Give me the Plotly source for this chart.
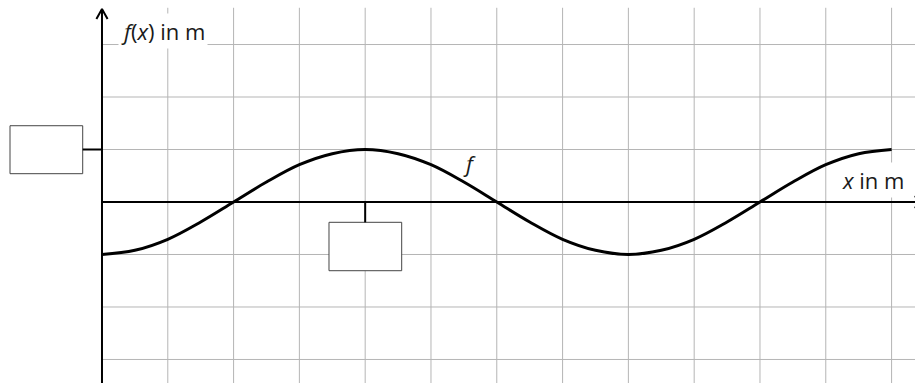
import plotly.graph_objects as go

# curve f (x in grid units, f(x) in grid units)
x_vals = [0, 0.5, 1, 1.5, 2, 2.5, 3, 3.5, 4, 4.5, 5, 5.5, 6,
          6.5, 7, 7.5, 8, 8.5, 9, 9.5, 10, 10.5, 11, 11.5, 12]
f_vals = [-1, -0.92, -0.71, -0.38, 0, 0.38, 0.71, 0.92, 1, 0.92, 0.71, 0.38, 0,
          -0.38, -0.71, -0.92, -1, -0.92, -0.71, -0.38, 0, 0.38, 0.71, 0.92, 1]

grid_x = [1, 2, 3, 4, 5, 6, 7, 8, 9, 10, 11, 12]
grid_y = [-3, -2, -1, 1, 2, 3]

X_RANGE = [-1.55, 12.356]
Y_RANGE = [-3.448, 3.848]
GRID_TOP = 3.70
Y_TIP = 3.676
X_TIP = 12.5

GRID_COLOR = "#b5b5b5"
FONT = "Open Sans"
TEXT_COLOR = "#1a1a1a"

fig = go.Figure()

shapes = []
for gx in grid_x:
    shapes.append(dict(type="line", x0=gx, x1=gx, y0=Y_RANGE[0], y1=GRID_TOP,
                       line=dict(color=GRID_COLOR, width=1), layer="below"))
for gy in grid_y:
    shapes.append(dict(type="line", x0=0, x1=X_RANGE[1], y0=gy, y1=gy,
                       line=dict(color=GRID_COLOR, width=1), layer="below"))

# axes
shapes.append(dict(type="line", x0=0, x1=0, y0=Y_RANGE[0], y1=Y_TIP,
                   line=dict(color="black", width=2)))
shapes.append(dict(type="line", x0=0, x1=X_RANGE[1], y0=0, y1=0,
                   line=dict(color="black", width=2)))

# answer boxes with their connectors
shapes.append(dict(type="rect", x0=-1.398, x1=-0.293, y0=0.539, y1=1.453,
                   line=dict(color="#444", width=1), fillcolor="white"))
shapes.append(dict(type="line", x0=-0.293, x1=0, y0=1, y1=1,
                   line=dict(color="black", width=2)))
shapes.append(dict(type="rect", x0=3.45, x1=4.555, y0=-1.309, y1=-0.387,
                   line=dict(color="#444", width=1), fillcolor="white"))
shapes.append(dict(type="line", x0=4, x1=4, y0=0, y1=-0.387,
                   line=dict(color="black", width=2)))

# arrow heads
ah_w, ah_h = 0.085, 0.19
fig.add_trace(go.Scatter(x=[-ah_w, 0, ah_w], y=[Y_TIP - ah_h, Y_TIP, Y_TIP - ah_h],
                         mode="lines", line=dict(color="black", width=2),
                         hoverinfo="skip", showlegend=False))
fig.add_trace(go.Scatter(x=[X_TIP - 0.15, X_TIP, X_TIP - 0.15], y=[0.11, 0, -0.11],
                         mode="lines", line=dict(color="black", width=2),
                         hoverinfo="skip", showlegend=False))

fig.add_trace(go.Scatter(x=x_vals, y=f_vals, mode="lines",
                         line=dict(color="black", width=3, shape="spline", smoothing=1.0),
                         hoverinfo="skip", showlegend=False))

annotations = [
    dict(x=0.93, y=3.257, text="<i>f</i>(<i>x</i>) in m", showarrow=False,
         font=dict(family=FONT, size=22, color=TEXT_COLOR), bgcolor="white", borderpad=2),
    dict(x=11.725, y=0.42, text="<i>x</i> in m", showarrow=False,
         font=dict(family=FONT, size=22, color=TEXT_COLOR), bgcolor="white", borderpad=2),
    dict(x=5.58, y=0.74, text="<i>f</i>", showarrow=False,
         font=dict(family=FONT, size=22, color=TEXT_COLOR)),
]

fig.update_layout(
    width=915, height=383,
    margin=dict(l=0, r=0, t=0, b=0),
    paper_bgcolor="white", plot_bgcolor="white",
    xaxis=dict(range=X_RANGE, visible=False, fixedrange=True),
    yaxis=dict(range=Y_RANGE, visible=False, fixedrange=True),
    shapes=shapes,
    annotations=annotations,
)

fig.write_html("out.html", config={"displayModeBar": False},
               post_script="document.body.style.margin='0';document.body.style.overflow='hidden';")
